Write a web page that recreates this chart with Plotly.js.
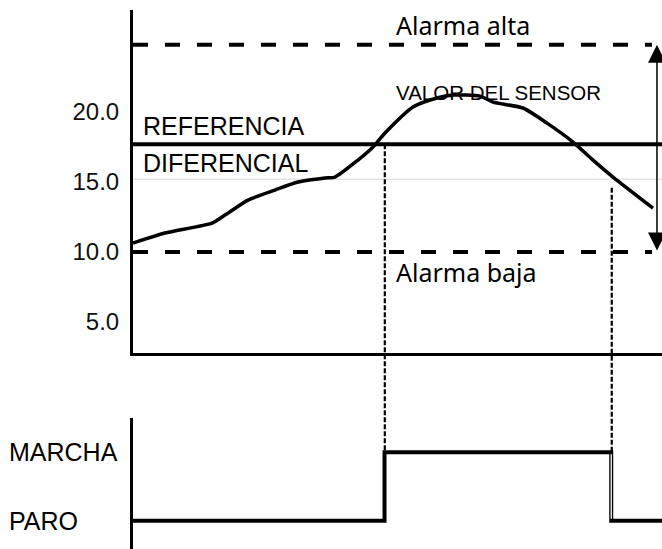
<!DOCTYPE html>
<html><head><meta charset="utf-8">
<script src="https://cdn.plot.ly/plotly-3.0.1.min.js"></script>
<style>html,body{margin:0;padding:0;background:#fff}#chart{width:662px;height:549px}</style>
</head><body><div id="chart"></div>
<script>
// ---- data ----
const sensorTime  = [0, 6.05, 14.93, 17.39, 21.74, 26.84, 31.19, 36.29, 38.19, 42.53, 45.18, 47.64, 52.93, 57.47, 60.49, 65.6, 68.05, 73.72, 78.26, 83.18, 86.96, 90.74, 98.3];
const sensorValue = [10.64, 11.36, 12.07, 12.64, 13.71, 14.43, 15.0, 15.29, 15.36, 16.57, 17.43, 18.5, 20.36, 21.0, 21.21, 21.14, 20.71, 20.29, 19.21, 17.86, 16.57, 15.36, 13.14];
const stateTime  = [0, 47.55, 90.4, 100];
const stateValue = [0, 1, 0, 0];
const stateLabels = ['PARO', 'MARCHA'];
const yTickVals = [5, 10, 15, 20];
const yTickText = ['5.0', '10.0', '15.0', '20.0'];
const alarmHigh = 24.8;
const alarmLow = 10.0;
const reference = 17.7;
const differential = 15.2;
const onEventTime = 47.6, onEventValue = 17.7;
const offEventTime = 90.5, offEventValue = 14.6;
const alarmSpanTime = 99.05;

// ---- layout helpers ----
const xRange = [0, 100];
const yRange = [2.79, 27.29];
const yDomain = [196/539, 1];
const y2Range = [-0.414, 1.501];
const y2Domain = [0, 131/539];
function toPaper(v, r, d) { return d[0] + (v - r[0]) / (r[1] - r[0]) * (d[1] - d[0]); }

const FONT = 'Liberation Sans, Arial, sans-serif';
const FONT2 = 'Noto Sans, Open Sans, sans-serif';

const traces = [
  {x: sensorTime, y: sensorValue, xaxis: 'x', yaxis: 'y', mode: 'lines',
   line: {color: '#000', width: 3.5, shape: 'spline', smoothing: 0.6}, hoverinfo: 'skip'},
  {x: stateTime, y: stateValue, xaxis: 'x2', yaxis: 'y2', mode: 'lines',
   line: {color: '#000', width: 4, shape: 'hv'}, hoverinfo: 'skip'}
];

const shapes = [
  {type: 'line', xref: 'x', yref: 'y', x0: 0, x1: 100, y0: differential, y1: differential,
   line: {color: '#e4e4e4', width: 1.5}, layer: 'below'},
  {type: 'line', xref: 'x', yref: 'y', x0: 0, x1: 98.1, y0: alarmHigh, y1: alarmHigh,
   line: {color: '#000', width: 4, dash: '15px,17px'}},
  {type: 'line', xref: 'x', yref: 'y', x0: 0, x1: 98.1, y0: alarmLow, y1: alarmLow,
   line: {color: '#000', width: 4, dash: '15px,17px'}},
  {type: 'line', xref: 'x', yref: 'y', x0: 0, x1: 100, y0: reference, y1: reference,
   line: {color: '#000', width: 4}},
  {type: 'line', xref: 'x', yref: 'paper', x0: onEventTime, x1: onEventTime,
   y0: toPaper(onEventValue, yRange, yDomain), y1: toPaper(1, y2Range, y2Domain),
   line: {color: '#000', width: 2.2, dash: '5px,2px'}},
  {type: 'line', xref: 'x', yref: 'paper', x0: offEventTime, x1: offEventTime,
   y0: toPaper(offEventValue, yRange, yDomain), y1: toPaper(1, y2Range, y2Domain),
   line: {color: '#000', width: 2.2, dash: '5px,2px'}},
  {type: 'line', xref: 'x2', yref: 'y2', x0: stateTime[2], x1: stateTime[2], y0: 0.03, y1: 0.97,
   line: {color: '#fff', width: 1.3}}
];

const ann = (text, x, y, size, font) => ({text, x, y, xref: 'x', yref: 'y', xanchor: 'left', yanchor: 'middle',
  showarrow: false, font: {family: font || FONT, size: size, color: '#000'}});

const annotations = [
  ann('Alarma alta', 49.4, 26.2, 25, FONT2),
  ann('VALOR DEL SENSOR', 49.4, 21.43, 20.5),
  ann('REFERENCIA', 1.5, 19.01, 25),
  ann('DIFERENCIAL', 1.5, 16.33, 25),
  ann('Alarma baja', 49.4, 8.6, 25, FONT2),
  {text: stateLabels[1], x: -0.238, y: 1, xref: 'paper', yref: 'y2', xanchor: 'left', yanchor: 'middle',
   showarrow: false, font: {family: FONT, size: 25, color: '#000'}},
  {text: stateLabels[0], x: -0.238, y: 0, xref: 'paper', yref: 'y2', xanchor: 'left', yanchor: 'middle',
   showarrow: false, font: {family: FONT, size: 25, color: '#000'}},
  {text: '', x: alarmSpanTime, y: alarmHigh, ax: alarmSpanTime, ay: alarmLow, xref: 'x', yref: 'y',
   axref: 'x', ayref: 'y', showarrow: true, arrowside: 'end+start', arrowhead: 2, arrowsize: 2.4,
   arrowwidth: 1.5, arrowcolor: '#000', standoff: 0, startstandoff: 0}
];

const axisCommon = {showgrid: false, zeroline: false, fixedrange: true};
const layout = {
  width: 662, height: 549,
  margin: {l: 133, r: 0, t: 10, b: 0},
  paper_bgcolor: '#fff', plot_bgcolor: '#fff',
  showlegend: false,
  xaxis: Object.assign({}, axisCommon, {range: xRange, domain: [0, 1], anchor: 'y', showline: true,
    linecolor: '#000', linewidth: 3, showticklabels: false, ticks: ''}),
  xaxis2: Object.assign({}, axisCommon, {range: xRange, domain: [0, 1], anchor: 'y2', showline: false,
    showticklabels: false, ticks: ''}),
  yaxis: Object.assign({}, axisCommon, {range: yRange, domain: yDomain, anchor: 'x', showline: true,
    linecolor: '#000', linewidth: 3, tickvals: yTickVals, ticktext: yTickText, ticks: '',
    ticklabelstandoff: 6, tickfont: {family: FONT, size: 24, color: '#111'}}),
  yaxis2: Object.assign({}, axisCommon, {range: y2Range, domain: y2Domain, anchor: 'x2', showline: true,
    linecolor: '#000', linewidth: 3, showticklabels: false, ticks: ''}),
  shapes, annotations
};

Plotly.newPlot('chart', traces, layout, {staticPlot: true, displayModeBar: false});
</script></body></html>
